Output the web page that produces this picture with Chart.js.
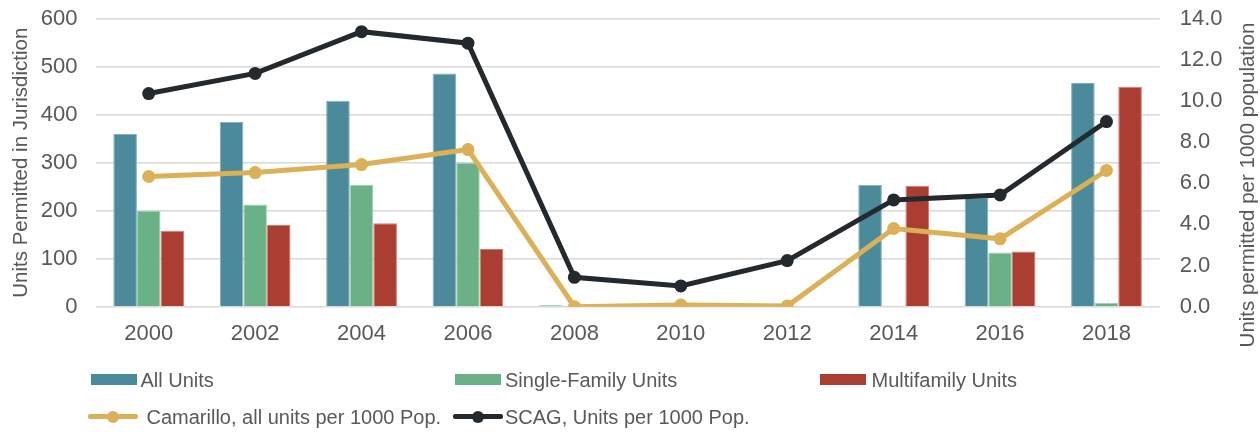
<!DOCTYPE html>
<html>
<head>
<meta charset="utf-8">
<script src="https://cdn.jsdelivr.net/npm/chart.js@4"></script>
<style>
  html, body { margin: 0; padding: 0; background: #ffffff; }
  #wrap { position: relative; width: 1260px; height: 432px; overflow: hidden; }
  #chart { position: absolute; left: 0; top: 0; }
  .lg { position: absolute; font-family: "Liberation Sans", Arial, sans-serif; font-size: 20px; color: #595959; white-space: nowrap; line-height: 20px; }
  .box { position: absolute; height: 11px; }
  .ln { position: absolute; height: 5px; border-radius: 2px; }
  .dot { position: absolute; width: 12px; height: 12px; border-radius: 50%; }
</style>
</head>
<body>
<div id="wrap">
  <canvas id="chart" width="1260" height="432"></canvas>
</div>
<script>
const years = ['2000', '2002', '2004', '2006', '2008', '2010', '2012', '2014', '2016', '2018'];
const allUnits = [360, 385, 429, 486, 3, 0, 0, 254, 227, 466];
const singleFamily = [200, 213, 254, 300, 1, 0, 1, 2, 113, 8];
const multiFamily = [158, 170, 174, 120, 0, 0, 0, 252, 115, 458];
const camarilloPer1000 = [6.33, 6.52, 6.91, 7.64, 0.0, 0.08, 0.03, 3.80, 3.30, 6.62];
const scagPer1000 = [10.36, 11.34, 13.37, 12.81, 1.43, 1.01, 2.24, 5.19, 5.43, 9.00];
const leftTicks = [0, 100, 200, 300, 400, 500, 600];
const rightTicks = [0, 2, 4, 6, 8, 10, 12, 14];

const seriesNames = ['All Units', 'Single-Family Units', 'Multifamily Units',
  'Camarillo, all units per 1000 Pop.', 'SCAG, Units per 1000 Pop.'];
const colors = ['#4a8a9a', '#6ab187', '#aa3e33', '#dcb056', '#23292d'];
const edge = ['#7fb0bd', '#9fd2b2', '#d67a70'];

const TEXT = '#595959';
const FONT = '"Liberation Sans", Arial, sans-serif';

const rightTitlePlugin = {
  id: 'rightTitle',
  afterDraw(chart) {
    const ctx = chart.ctx;
    ctx.save();
    ctx.translate(1248, 185);
    ctx.rotate(-Math.PI / 2);
    ctx.font = '20.5px ' + FONT;
    ctx.fillStyle = TEXT;
    ctx.textAlign = 'center';
    ctx.textBaseline = 'middle';
    ctx.fillText('Units permitted per 1000 population', 0, 0);
    ctx.restore();
  }
};

const barDs = (i, data) => ({
  type: 'bar', label: seriesNames[i], data, yAxisID: 'y',
  backgroundColor: colors[i], borderColor: edge[i], borderWidth: 1,
  categoryPercentage: 0.665, barPercentage: 1.0, order: 2
});
const lineDs = (i, data, ord) => ({
  type: 'line', label: seriesNames[i], data, yAxisID: 'y1',
  borderColor: colors[i], backgroundColor: colors[i], borderWidth: 5,
  pointRadius: 6.5, pointHoverRadius: 6.5, pointBorderWidth: 0,
  tension: 0, order: ord, fill: false
});

new Chart(document.getElementById('chart'), {
  data: {
    labels: years,
    datasets: [
      barDs(0, allUnits), barDs(1, singleFamily), barDs(2, multiFamily),
      lineDs(3, camarilloPer1000, 1), lineDs(4, scagPer1000, 0)
    ]
  },
  options: {
    responsive: false,
    animation: false,
    devicePixelRatio: 1,
    layout: { padding: { top: 18.7, bottom: 85.3, left: 0, right: 0 } },
    plugins: { legend: { display: false }, tooltip: { enabled: false } },
    scales: {
      x: {
        offset: true,
        grid: { display: false, drawTicks: false },
        border: { display: false },
        ticks: { color: TEXT, font: { family: FONT, size: 22 }, padding: 14, maxRotation: 0 },
        afterFit(s) { s.height = 40; s.paddingLeft = 0; s.paddingRight = 0; }
      },
      y: {
        position: 'left', min: 0, max: 600,
        afterBuildTicks(s) { s.ticks = leftTicks.map(v => ({ value: v })); },
        grid: { color: '#d9d9d9', lineWidth: 1.6, drawTicks: false },
        border: { display: false },
        ticks: { color: TEXT, font: { family: FONT, size: 22 }, padding: 18 },
        title: { display: true, text: 'Units Permitted in Jurisdiction', color: TEXT,
                 font: { family: FONT, size: 20.5 }, padding: { top: 9, bottom: 0 } },
        afterFit(s) { s.width = 95.5; s.paddingTop = 0; s.paddingBottom = 0; }
      },
      y1: {
        position: 'right', min: 0, max: 14,
        afterBuildTicks(s) { s.ticks = rightTicks.map(v => ({ value: v })); },
        grid: { display: false, drawTicks: false },
        border: { display: false },
        ticks: { color: TEXT, font: { family: FONT, size: 22 }, padding: 20,
                 callback: v => Number(v).toFixed(1) },
        afterFit(s) { s.width = 100.3; s.paddingTop = 0; s.paddingBottom = 0; }
      }
    }
  },
  plugins: [rightTitlePlugin]
});

// HTML legend
const wrap = document.getElementById('wrap');
function addBox(x, w, yc, color) {
  const d = document.createElement('div');
  d.className = 'box';
  d.style.left = x + 'px'; d.style.width = w + 'px';
  d.style.top = (yc - 5.5) + 'px'; d.style.background = color;
  wrap.appendChild(d);
}
function addLine(x, w, yc, color) {
  const d = document.createElement('div');
  d.className = 'ln';
  d.style.left = x + 'px'; d.style.width = w + 'px';
  d.style.top = (yc - 2.5) + 'px'; d.style.background = color;
  wrap.appendChild(d);
  const p = document.createElement('div');
  p.className = 'dot';
  p.style.left = (x + w / 2 - 6) + 'px'; p.style.top = (yc - 6) + 'px';
  p.style.background = color;
  wrap.appendChild(p);
}
function addText(x, yc, text) {
  const t = document.createElement('div');
  t.className = 'lg';
  t.style.left = x + 'px'; t.style.top = (yc - 10) + 'px';
  t.textContent = text;
  wrap.appendChild(t);
}
const row1 = 379.5, row2 = 416.7;
addBox(91, 46, row1, colors[0]); addText(140.5, row1, seriesNames[0]);
addBox(455, 46, row1, colors[1]); addText(505, row1, seriesNames[1]);
addBox(820, 46, row1, colors[2]); addText(871.5, row1, seriesNames[2]);
addLine(88, 50, row2, colors[3]); addText(146.5, row2, seriesNames[3]);
addLine(453, 50, row2, colors[4]); addText(505, row2, seriesNames[4]);
</script>
</body>
</html>
